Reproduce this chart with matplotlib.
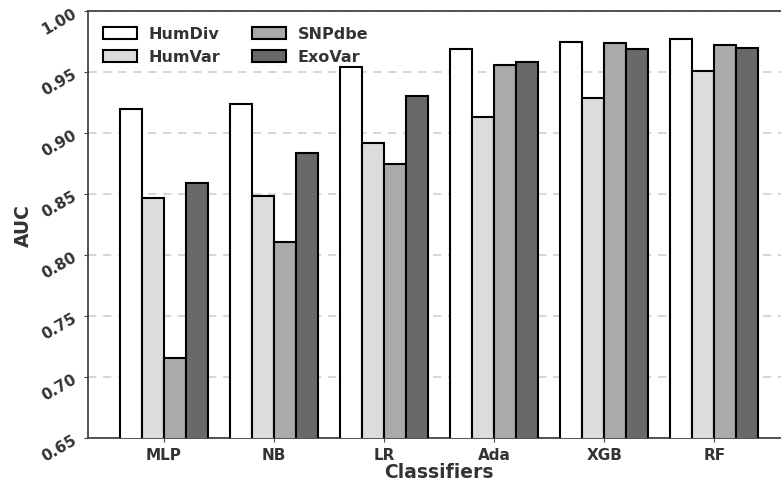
import numpy as np
import matplotlib.pyplot as plt

classifiers = ['MLP', 'NB', 'LR', 'Ada', 'XGB', 'RF']
datasets = ['HumDiv', 'HumVar', 'SNPdbe', 'ExoVar']
humdiv = [0.920, 0.924, 0.954, 0.969, 0.975, 0.977]
humvar = [0.847, 0.848, 0.892, 0.913, 0.929, 0.951]
snpdbe = [0.716, 0.811, 0.875, 0.956, 0.974, 0.972]
exovar = [0.859, 0.884, 0.930, 0.958, 0.969, 0.970]
colors = ['#ffffff', '#dcdcdc', '#aaaaaa', '#696969']

plt.rcParams['font.family'] = 'DejaVu Sans'
plt.rcParams['font.weight'] = 'bold'
txt = '#333333'

fig = plt.figure(figsize=(7.81, 4.85), dpi=100)
ax = fig.add_axes([0.1127, 0.0948, 0.899, 0.8804])

x = np.arange(len(classifiers))
w = 0.2
series = [humdiv, humvar, snpdbe, exovar]
for i, (vals, name, c) in enumerate(zip(series, datasets, colors)):
    ax.bar(x + (i - 1.5) * w, vals, w, color=c, edgecolor='black',
           linewidth=1.5, label=name, zorder=3)

ax.set_ylim(0.65, 1.00)
ax.set_xlim(-0.69, 5.69)
ax.set_yticks(np.arange(0.65, 1.001, 0.05))
ax.set_yticklabels(['%.2f' % v for v in np.arange(0.65, 1.001, 0.05)],
                   rotation=30, fontsize=11, fontweight='bold', color=txt)
ax.set_xticks(x)
ax.set_xticklabels(classifiers, fontsize=11, fontweight='bold', color=txt)
ax.tick_params(axis='both', length=3, color='#444444')
ax.yaxis.grid(True, linestyle='--', color='#d0d0d0', linewidth=1.2, dashes=(5, 4), zorder=0)
ax.set_axisbelow(True)
for s in ax.spines.values():
    s.set_color('#444444')
    s.set_linewidth(1.3)

ax.set_xlabel('Classifiers', fontsize=13.5, fontweight='bold', color=txt, labelpad=0)
ax.set_ylabel('AUC', fontsize=13.5, fontweight='bold', color=txt, labelpad=4)
ax.legend(loc='upper left', ncol=2, frameon=False,
          handlelength=2.1, handleheight=0.8, handletextpad=0.75,
          columnspacing=2.0, labelspacing=0.5, borderaxespad=0.55,
          labelcolor=txt, prop={'weight': 'bold', 'size': 11.5})

fig.savefig('out.png', dpi=100)
